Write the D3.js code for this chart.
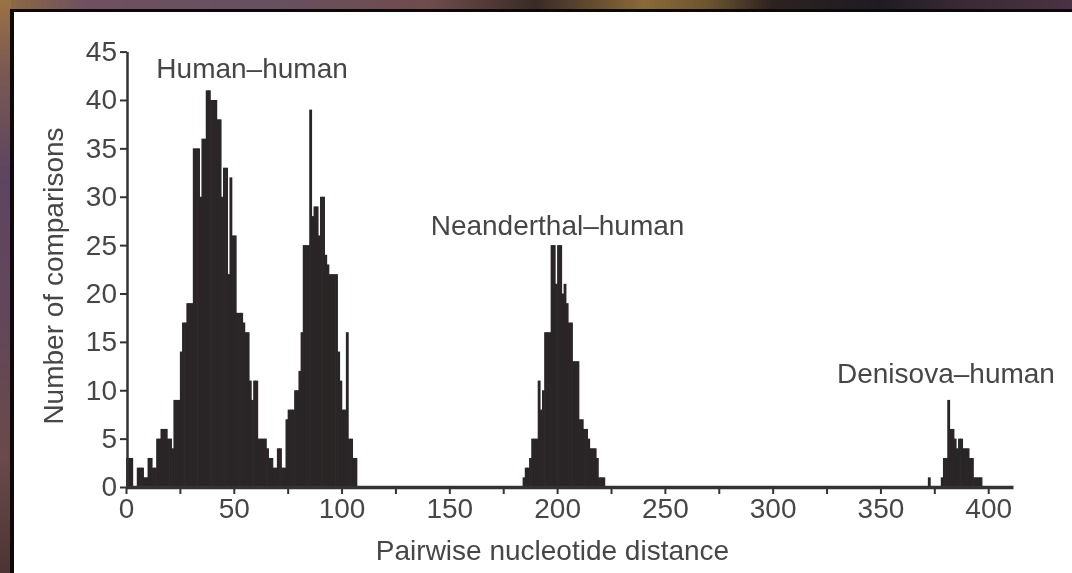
<!DOCTYPE html>
<html>
<head>
<meta charset="utf-8">
<script src="https://cdn.jsdelivr.net/npm/d3@7"></script>
<style>
  html, body { margin: 0; padding: 0; background: #fff; }
  #visualization svg { display: block; filter: blur(0.45px); }
  text { font-family: "Liberation Sans", Arial, Helvetica, sans-serif; }
</style>
</head>
<body>
<div id="visualization"></div>
<script>
// --- Data (counts per unit of pairwise distance) ---
const HUMAN_START = 0;
const humanCounts = [
  3, 3, 3, 0, 0, 2, 2, 2, 1, 1,
  3, 3, 2, 2, 5, 5, 6, 6, 6, 5,
  5, 4, 9, 9, 9, 14, 17, 17, 19, 19,
  19, 35, 35, 35, 30, 36, 36, 41, 41, 40,
  40, 40, 38, 38, 30, 33, 33, 22, 32, 26,
  26, 18, 18, 18, 17, 16, 16, 11, 9, 11,
  11, 5, 5, 5, 5, 4, 3, 3, 2, 2,
  4, 4, 2, 2, 7, 8, 8, 8, 10, 10,
  12, 16, 25, 25, 25, 39, 28, 29, 29, 26,
  30, 30, 24, 23, 22, 22, 22, 22, 14, 11,
  8, 8, 16, 5, 5, 3, 3
];
const NEANDERTHAL_START = 184;
const neanderthalCounts = [
  1, 2, 2, 3, 5, 5, 5, 11, 8, 10,
  16, 16, 16, 25, 25, 21, 25, 25, 20, 21,
  19, 17, 17, 13, 13, 13, 7, 7, 6, 6,
  5, 4, 4, 4, 3, 1, 1, 1
];
const DENISOVA_START = 372;
const denisovaCounts = [
  1, 0, 0, 0, 0, 0, 1, 3, 3, 9,
  6, 6, 5, 4, 5, 5, 4, 4, 4, 3,
  3, 1, 1, 1, 1
];

const xTickValues = d3.range(0, 401, 25);
const xTickLabels = [0, 50, 100, 150, 200, 250, 300, 350, 400];
const yTickValues = [0, 5, 10, 15, 20, 25, 30, 35, 40, 45];

const peakLabels = ["Human\u2013human", "Neanderthal\u2013human", "Denisova\u2013human"];
const peakLabelX = [58.5, 200.2, 380.4];
const peakLabelY = [42.3, 26.0, 10.75];

// --- Constants ---
const SVG_WIDTH = 1072;
const SVG_HEIGHT = 573;
const X_DOMAIN_MAX = 411.5;
const Y_DOMAIN_MAX = 45;
const PLOT = { left: 126, right: 1013, top: 51.6, bottom: 487 };
const FONT_SIZE = 28;
const TEXT_COLOR = "#464646";
const AXIS_COLOR = "#333";
const BAR_COLOR = "#2a2526";

document.addEventListener("DOMContentLoaded", initPage);

function initPage() {
    const svg = d3.select("#visualization")
        .append("svg")
        .attr("width", SVG_WIDTH)
        .attr("height", SVG_HEIGHT);
    drawFrame(svg);
    drawChart(svg);
}

// --- Photo-like frame around the white panel ---
function drawFrame(svg) {
    const defs = svg.append("defs");
    const topGrad = defs.append("linearGradient")
        .attr("id", "topStrip").attr("x1", 0).attr("x2", 1).attr("y1", 0).attr("y2", 0);
    [["0", "#8f6c42"], ["0.08", "#6f5060"], ["0.25", "#675060"], ["0.4", "#6f4c4c"],
     ["0.5", "#3b2b26"], ["0.6", "#8a6a38"], ["0.66", "#6e5530"], ["0.72", "#2c2220"],
     ["0.82", "#1f1b22"], ["0.9", "#3a2a36"], ["1", "#4c3244"]]
        .forEach(([o, c]) => topGrad.append("stop").attr("offset", o).attr("stop-color", c));
    const leftGrad = defs.append("linearGradient")
        .attr("id", "leftStrip").attr("x1", 0).attr("x2", 0).attr("y1", 0).attr("y2", 1);
    [["0", "#9a7245"], ["0.12", "#7c5a52"], ["0.3", "#5e4560"], ["0.55", "#63465a"],
     ["0.8", "#6a4a4a"], ["1", "#4e3434"]]
        .forEach(([o, c]) => leftGrad.append("stop").attr("offset", o).attr("stop-color", c));

    svg.append("rect").attr("width", SVG_WIDTH).attr("height", 11).attr("fill", "url(#topStrip)");
    svg.append("rect").attr("width", 11).attr("height", SVG_HEIGHT).attr("fill", "url(#leftStrip)");
    svg.append("rect").attr("x", 10).attr("y", 9).attr("width", SVG_WIDTH).attr("height", SVG_HEIGHT).attr("fill", "#0a0a0a");
    svg.append("rect").attr("x", 14).attr("y", 12).attr("width", SVG_WIDTH).attr("height", SVG_HEIGHT).attr("fill", "#fff");
}

// --- Histogram ---
function drawChart(svg) {
    const bins = []
        .concat(humanCounts.map((c, i) => ({ d: HUMAN_START + i, c })))
        .concat(neanderthalCounts.map((c, i) => ({ d: NEANDERTHAL_START + i, c })))
        .concat(denisovaCounts.map((c, i) => ({ d: DENISOVA_START + i, c })))
        .filter((b) => b.c > 0);

    const xScale = d3.scaleLinear().domain([0, X_DOMAIN_MAX]).range([PLOT.left, PLOT.right]);
    const yScale = d3.scaleLinear().domain([0, Y_DOMAIN_MAX]).range([PLOT.bottom, PLOT.top]);

    // bars (slight overlap so neighbouring bins join without hairline gaps)
    svg.append("g")
        .selectAll("rect")
        .data(bins)
        .join("rect")
        .attr("x", (b) => xScale(b.d))
        .attr("width", (b) => xScale(b.d + 1) - xScale(b.d) + 0.7)
        .attr("y", (b) => yScale(b.c))
        .attr("height", (b) => yScale(0) - yScale(b.c))
        .attr("fill", BAR_COLOR);

    // x axis
    const xAxis = d3.axisBottom(xScale)
        .tickValues(xTickValues)
        .tickSize(7)
        .tickSizeOuter(0)
        .tickPadding(4)
        .tickFormat((v) => (xTickLabels.includes(v) ? String(v) : ""));
    const gx = svg.append("g")
        .attr("transform", `translate(0,${PLOT.bottom})`)
        .call(xAxis);
    gx.select(".domain").attr("stroke", AXIS_COLOR).attr("stroke-width", 3.5);
    gx.selectAll(".tick line").attr("stroke", AXIS_COLOR).attr("stroke-width", 2);
    gx.selectAll(".tick text")
        .attr("font-size", FONT_SIZE)
        .attr("fill", TEXT_COLOR)
        .attr("font-family", null);

    // y axis
    const yAxis = d3.axisLeft(yScale)
        .tickValues(yTickValues)
        .tickSize(7)
        .tickSizeOuter(0)
        .tickPadding(3);
    const gy = svg.append("g")
        .attr("transform", `translate(${PLOT.left + 1},0)`)
        .call(yAxis);
    gy.select(".domain").attr("stroke", AXIS_COLOR).attr("stroke-width", 2.5);
    gy.selectAll(".tick line").attr("stroke", AXIS_COLOR).attr("stroke-width", 2);
    gy.selectAll(".tick text")
        .attr("font-size", FONT_SIZE)
        .attr("fill", TEXT_COLOR)
        .attr("font-family", null);

    // axis titles
    svg.append("text")
        .attr("text-anchor", "middle")
        .attr("x", (PLOT.left + PLOT.right) / 2 - 17)
        .attr("y", 560)
        .attr("font-size", FONT_SIZE)
        .attr("fill", TEXT_COLOR)
        .text("Pairwise nucleotide distance");
    svg.append("text")
        .attr("text-anchor", "middle")
        .attr("transform", "rotate(-90)")
        .attr("x", -276)
        .attr("y", 63)
        .attr("font-size", FONT_SIZE)
        .attr("fill", TEXT_COLOR)
        .text("Number of comparisons");

    // peak labels
    svg.append("g")
        .selectAll("text")
        .data(peakLabels)
        .join("text")
        .attr("text-anchor", "middle")
        .attr("x", (t, i) => xScale(peakLabelX[i]))
        .attr("y", (t, i) => yScale(peakLabelY[i]))
        .attr("font-size", FONT_SIZE)
        .attr("fill", TEXT_COLOR)
        .text((t) => t);
}
</script>
</body>
</html>
